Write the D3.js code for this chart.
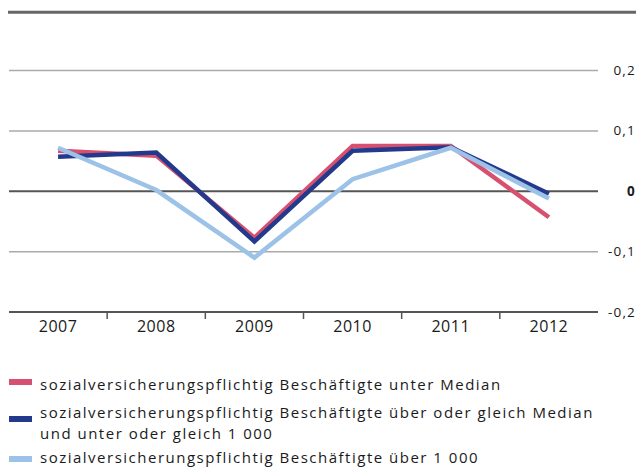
<!DOCTYPE html>
<html>
<head>
<meta charset="utf-8">
<script src="https://cdn.jsdelivr.net/npm/d3@7"></script>
<style>
  body { margin: 0; background: #fff; }
  text { font-family: "Open Sans", "DejaVu Sans", sans-serif; fill: #1a1a1a; }
</style>
</head>
<body>
<svg id="chart" width="636" height="467"></svg>
<script>
// data
var years = ['2007', '2008', '2009', '2010', '2011', '2012'];
var unterMedian = [0.067, 0.059, -0.077, 0.075, 0.075, -0.043];
var mittel = [0.057, 0.064, -0.083, 0.067, 0.073, -0.004];
var ueber1000 = [0.072, 0.002, -0.110, 0.020, 0.072, -0.012];
var yTicks = [0.2, 0.1, 0, -0.1, -0.2];

var seriesNames = [
    ['sozialversicherungspflichtig Beschäftigte unter Median'],
    ['sozialversicherungspflichtig Beschäftigte über oder gleich Median', 'und unter oder gleich 1 000'],
    ['sozialversicherungspflichtig Beschäftigte über 1 000']
];
var colors = ['#d8506f', '#23398c', '#9cc2e7'];

var svg = d3.select('#chart');
var x = d3.scaleBand().domain(years).range([9, 598]);
var y = d3.scaleLinear().domain([-0.2, 0.2]).range([312, 70.5]);
var fmt = function(d) { return d3.format('.1f')(d).replace('.', ',').replace('\u2212', '-'); };

// top frame line
svg.append('line')
    .attr('x1', 8).attr('x2', 636)
    .attr('y1', y(0.3) + 2).attr('y2', y(0.3) + 2)
    .attr('stroke', '#666').attr('stroke-width', 3);

// gridlines
svg.selectAll('.grid').data(yTicks).enter()
    .append('line')
    .attr('class', 'grid')
    .attr('x1', 9).attr('x2', 598)
    .attr('y1', function(d) { return y(d); })
    .attr('y2', function(d) { return y(d); })
    .attr('stroke', function(d) { return (d === 0 || d === -0.2) ? '#555' : '#aaa'; })
    .attr('stroke-width', function(d) { return (d === 0 || d === -0.2) ? 2 : 1.5; });

// y labels on the right
svg.selectAll('.ylab').data(yTicks).enter()
    .append('text')
    .attr('class', 'ylab')
    .attr('x', 636)
    .attr('y', function(d) { return y(d) + 4.5; })
    .attr('text-anchor', 'end')
    .attr('font-size', 13.5)
    .attr('letter-spacing', 1.2)
    .attr('font-weight', function(d) { return d === 0 ? 'bold' : 'normal'; })
    .text(function(d) { return d === 0 ? '0' : fmt(d); });

// x ticks between the categories
svg.selectAll('.xtick').data(years.slice(1)).enter()
    .append('line')
    .attr('x1', function(d) { return x(d); })
    .attr('x2', function(d) { return x(d); })
    .attr('y1', y(-0.2)).attr('y2', y(-0.2) + 7)
    .attr('stroke', '#555').attr('stroke-width', 1.5);

svg.selectAll('.xlab').data(years).enter()
    .append('text')
    .attr('x', function(d) { return x(d) + x.bandwidth() / 2; })
    .attr('y', 332)
    .attr('text-anchor', 'middle')
    .attr('font-size', 16)
    .attr('letter-spacing', 0.5)
    .text(function(d) { return d; });

// lines
var line = d3.line()
    .x(function(d, i) { return x(years[i]) + x.bandwidth() / 2; })
    .y(function(d) { return y(d); });

[unterMedian, mittel, ueber1000].forEach(function(s, i) {
    svg.append('path')
        .datum(s)
        .attr('d', line)
        .attr('fill', 'none')
        .attr('stroke', colors[i])
        .attr('stroke-width', 4.5)
        .attr('stroke-linejoin', 'miter');
});

// legend
var swatchY = [382, 419, 459];
var textY = [[390], [418, 439], [463]];
seriesNames.forEach(function(lines, i) {
    var g = svg.append('g');
    g.append('rect').attr('x', 9).attr('y', swatchY[i] - 3).attr('width', 23).attr('height', 6).attr('fill', colors[i]);
    lines.forEach(function(t, j) {
        g.append('text')
            .attr('x', 40)
            .attr('y', textY[i][j])
            .attr('font-size', 15)
            .attr('letter-spacing', 1.5)
            .text(t);
    });
});
</script>
</body>
</html>
